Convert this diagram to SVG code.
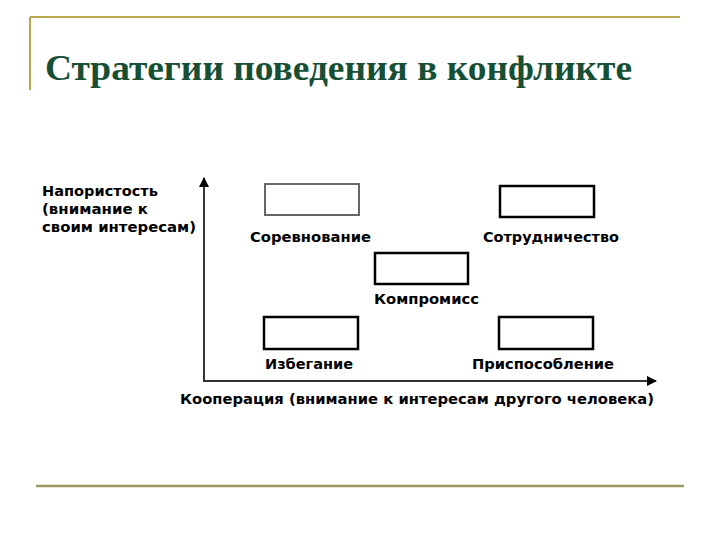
<svg xmlns="http://www.w3.org/2000/svg" width="720" height="540" viewBox="0 0 720 540">
<defs>
<style>
.t{font-family:"DejaVu Sans","Liberation Sans",sans-serif;font-size:14px;font-weight:bold;fill:#000}
.box{fill:#fff;stroke:#000;stroke-width:2.5}
.ax{stroke:#333;stroke-width:2;fill:none}
</style>
<marker id="ah" viewBox="0 0 10 10" refX="9" refY="5" markerWidth="8" markerHeight="5" markerUnits="strokeWidth" orient="auto"><path d="M0,0 L10,5 L0,10 z" fill="#000"/></marker>
</defs>
<rect width="720" height="540" fill="#fff"/>
<g id="frame">
<line x1="30" y1="17" x2="680" y2="17" stroke="#b8a850" stroke-width="2"/>
<line x1="30" y1="17" x2="30" y2="90" stroke="#b8a850" stroke-width="2"/>
<line x1="36" y1="486" x2="684" y2="486" stroke="#9a9a60" stroke-width="2.5"/>
</g>
<text id="title" x="45" y="80" font-family="Liberation Serif,serif" font-weight="bold" font-size="36" fill="#174f35" textLength="587" lengthAdjust="spacingAndGlyphs">Стратегии поведения в конфликте</text>
<g id="connectors">
<line class="ax" x1="204" y1="382" x2="204" y2="178" marker-end="url(#ah)"/>
<line class="ax" x1="203" y1="381" x2="656" y2="381" marker-end="url(#ah)"/>
</g>
<g id="ylabel">
<text class="t" x="42" y="196" textLength="116" lengthAdjust="spacingAndGlyphs">Напористость</text>
<text class="t" x="42" y="214" textLength="106" lengthAdjust="spacingAndGlyphs">(внимание к</text>
<text class="t" x="42" y="232" textLength="154" lengthAdjust="spacingAndGlyphs">своим интересам)</text>
</g>
<text id="xlabel" class="t" x="180" y="404" textLength="474" lengthAdjust="spacingAndGlyphs">Кооперация (внимание к интересам другого человека)</text>
<g id="competition">
<rect x="265" y="184" width="94" height="31" fill="#fff" stroke="#666" stroke-width="2"/>
<text class="t" x="250" y="242" textLength="121" lengthAdjust="spacingAndGlyphs">Соревнование</text>
</g>
<g id="collaboration">
<rect class="box" x="500" y="186" width="94" height="31"/>
<text class="t" x="483" y="242" textLength="136" lengthAdjust="spacingAndGlyphs">Сотрудничество</text>
</g>
<g id="compromise">
<rect class="box" x="375" y="253" width="93" height="31"/>
<text class="t" x="374" y="304" textLength="105" lengthAdjust="spacingAndGlyphs">Компромисс</text>
</g>
<g id="avoidance">
<rect class="box" x="264" y="317" width="94" height="32"/>
<text class="t" x="265" y="369" textLength="88" lengthAdjust="spacingAndGlyphs">Избегание</text>
</g>
<g id="accommodation">
<rect class="box" x="499" y="317" width="94" height="32"/>
<text class="t" x="472" y="369" textLength="142" lengthAdjust="spacingAndGlyphs">Приспособление</text>
</g>
</svg>
